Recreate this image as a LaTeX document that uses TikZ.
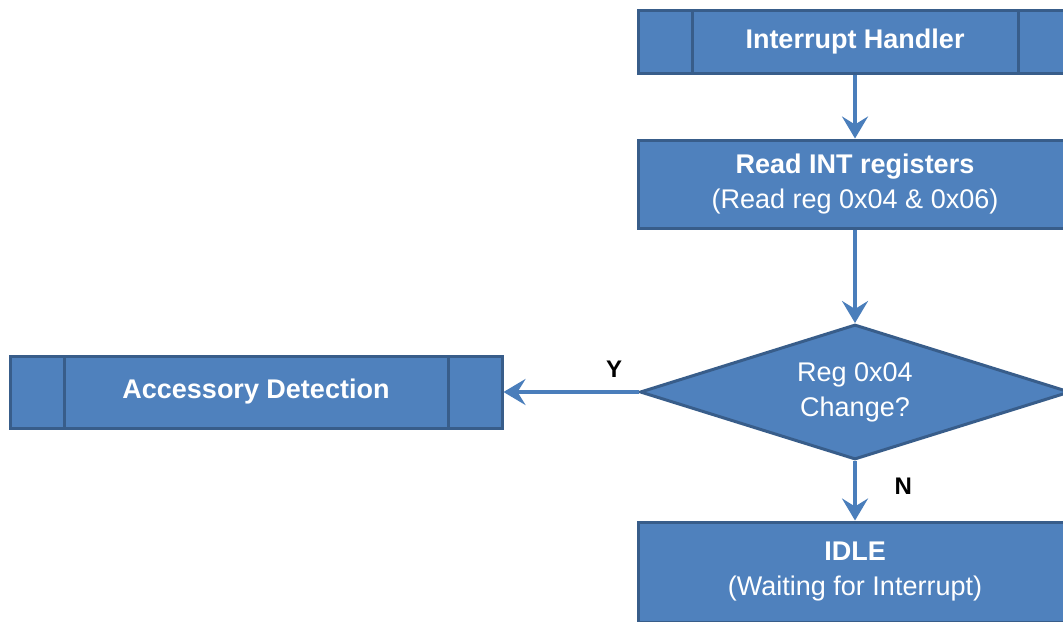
\documentclass[tikz,border=0pt]{standalone}
\usepackage{fontspec}
\setmainfont{Liberation Sans}
\usepackage{tikz}
\usetikzlibrary{%
	shapes.geometric,%
	arrows.meta%
}
\definecolor{BoxFill}{HTML}{4F81BD}
\definecolor{BoxLine}{HTML}{385D8A}
\definecolor{Flow}{HTML}{4A7EBB}

\begin{document}
\begin{tikzpicture}[x=0.5pt,y=-0.5pt,
	proc/.style={draw=BoxLine,line width=1.5pt,fill=BoxFill,text=white,align=center,
		inner sep=0pt,minimum width=217pt,font=\fontsize{13.5}{17.5}\selectfont},
	subproc/.style={proc,font=\fontsize{13.5}{17.5}\selectfont\bfseries,
		path picture={
			\draw [BoxLine,line width=1.5pt] ([xshift=27pt]path picture bounding box.north west) -- ([xshift=27pt]path picture bounding box.south west);
			\draw [BoxLine,line width=1.5pt] ([xshift=-27pt]path picture bounding box.north east) -- ([xshift=-27pt]path picture bounding box.south east);
		}},
	decision/.style={proc,diamond,shape aspect=3.2,minimum width=215pt,minimum height=67.5pt},
	flow/.style={Flow,line width=2pt,-{Stealth[length=11pt,width=13pt,inset=4pt]}},
	lbl/.style={font=\fontsize{12}{14}\selectfont\bfseries,text=black}]

\useasboundingbox [fill=white] (0,0) rectangle (1063,621);

\node [subproc,minimum height=31.5pt] (handler) at (855,42) {Interrupt Handler};
\node [proc,minimum height=44pt] (readint) at (855,184) {\textbf{Read INT registers}\\(Read reg 0x04 \& 0x06)};
\node [decision] (change) at (855,392) {Reg 0x04\\Change?};
\node [proc,minimum height=50pt] (idle) at (855,572) {\textbf{IDLE}\\(Waiting for Interrupt)};
\node [subproc,minimum width=246pt,minimum height=36pt] (accessory) at (256,392) {Accessory Detection};

\draw [flow] (handler) -- (readint);
\draw [flow] (readint) -- (change);
\draw [flow] (change.west) -- node [lbl,pos=0.18,above=3pt] {Y} (accessory.east);
\draw [flow] (change) -- node [lbl,pos=0.42,right=15.5pt] {N} (idle);

\end{tikzpicture}
\end{document}
